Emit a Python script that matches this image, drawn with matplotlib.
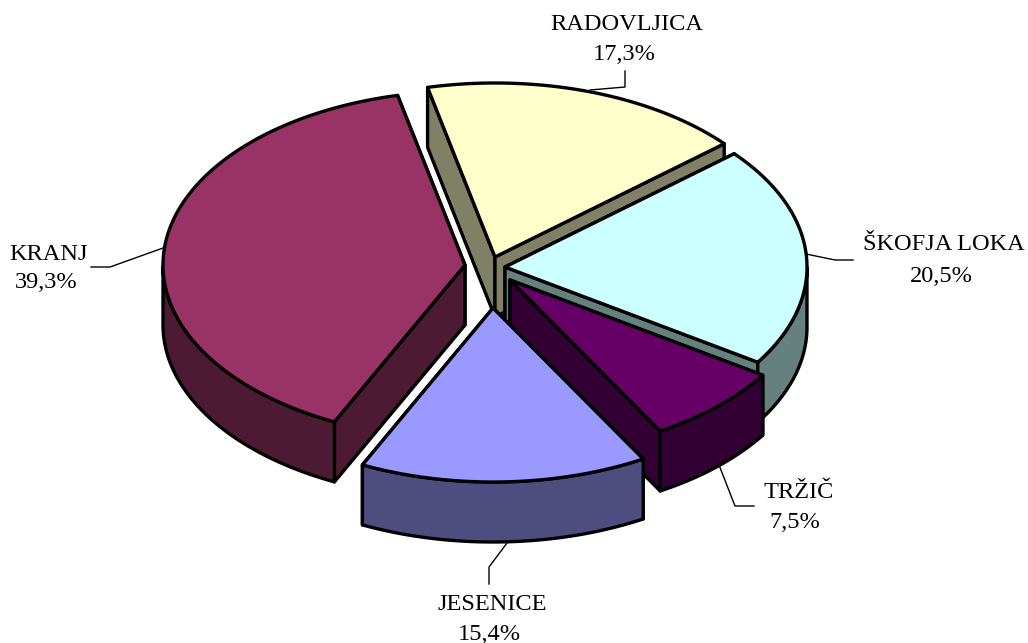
# -*- coding: utf-8 -*-
#Exploded 3D pie, shares by municipality
import numpy as np
import matplotlib
matplotlib.use('Agg')
import matplotlib.pyplot as plt
from matplotlib.patches import Polygon

plt.rcParams['font.family'] = ['Liberation Serif', 'DejaVu Serif']

#Data
names = ['RADOVLJICA', 'ŠKOFJA LOKA', 'TRŽIČ', 'JESENICE', 'KRANJ']
shares = [17.3, 20.5, 7.5, 15.4, 39.3]

#Styles and layout (pixels)
top_colors = ['#FFFFCC', '#CCFFFF', '#660066', '#9999FF', '#993366']
side_colors = ['#808066', '#668080', '#330033', '#4D4D80', '#4D1A33']
apex_x = [495, 505, 510, 493, 465]
apex_y = [257, 267, 280, 308, 265]
label_x = [627, 944, 799, 492, 49]
label_y = [24, 245, 493, 605, 254]
pct_x = [624, 941, 795, 489, 46]
pct_y = [54, 277, 523, 634, 283]
leader_x = [[590, 625, 625], [806, 835, 853], [719, 735, 754], [507, 489, 489], [163, 110, 91]]
leader_y = [[90, 87, 71], [254, 260, 260], [465, 506, 506], [543, 567, 584], [248, 267, 267]]
RX = 302
RY = 174
DEPTH = 60
START = 102.9
LW = 2.4

fig = plt.figure(figsize=(10.28, 6.43), dpi=100)
ax = fig.add_axes([0, 0, 1, 1])
ax.set_xlim(0, 1028)
ax.set_ylim(643, 0)
ax.axis('off')


def rim(cx, cy, t):
    t = np.radians(t)
    return cx + RX * np.cos(t), cy - RY * np.sin(t)


def poly(xs, ys, color, z):
    ax.add_patch(Polygon(np.column_stack([xs, ys]), closed=True, facecolor=color,
                         edgecolor='black', linewidth=LW, joinstyle='round', zorder=z))


#Slice angles, clockwise from START
ends = START - np.cumsum(shares) * 3.6
starts = np.concatenate([[START], ends[:-1]])

#Back to front
order = [0, 1, 4, 2, 3]
for z, i in enumerate(order):
    cx, cy = apex_x[i], apex_y[i]
    base = z * 10
    #cut faces, the one further back first
    cuts = sorted((starts[i], ends[i]), key=lambda t: rim(cx, cy, t)[1])
    for k, t in enumerate(cuts):
        x, y = rim(cx, cy, t)
        poly([cx, x, x, cx], [cy, y, y + DEPTH, cy + DEPTH], side_colors[i], base + k)
    #outer wall, only the part facing the viewer
    ts = np.linspace(starts[i], ends[i], 200)
    ts = ts[np.sin(np.radians(ts)) < 0]
    if len(ts) > 1:
        x, y = rim(cx, cy, ts)
        poly(np.concatenate([x, x[::-1]]), np.concatenate([y, y[::-1] + DEPTH]),
             side_colors[i], base + 2)
    #top
    ts = np.linspace(starts[i], ends[i], 200)
    x, y = rim(cx, cy, ts)
    poly(np.concatenate([[cx], x]), np.concatenate([[cy], y]), top_colors[i], base + 3)

#Labels and leader lines
for i in range(len(names)):
    ax.plot(leader_x[i], leader_y[i], color='black', linewidth=1, zorder=100)
    ax.text(label_x[i], label_y[i], names[i], ha='center', va='center', fontsize=17.6,
            color='black', zorder=101)
    ax.text(pct_x[i], pct_y[i], ('%.1f%%' % shares[i]).replace('.', ','), ha='center',
            va='center', fontsize=17.6, color='black', zorder=101)

plt.savefig('out.png', dpi=100)
